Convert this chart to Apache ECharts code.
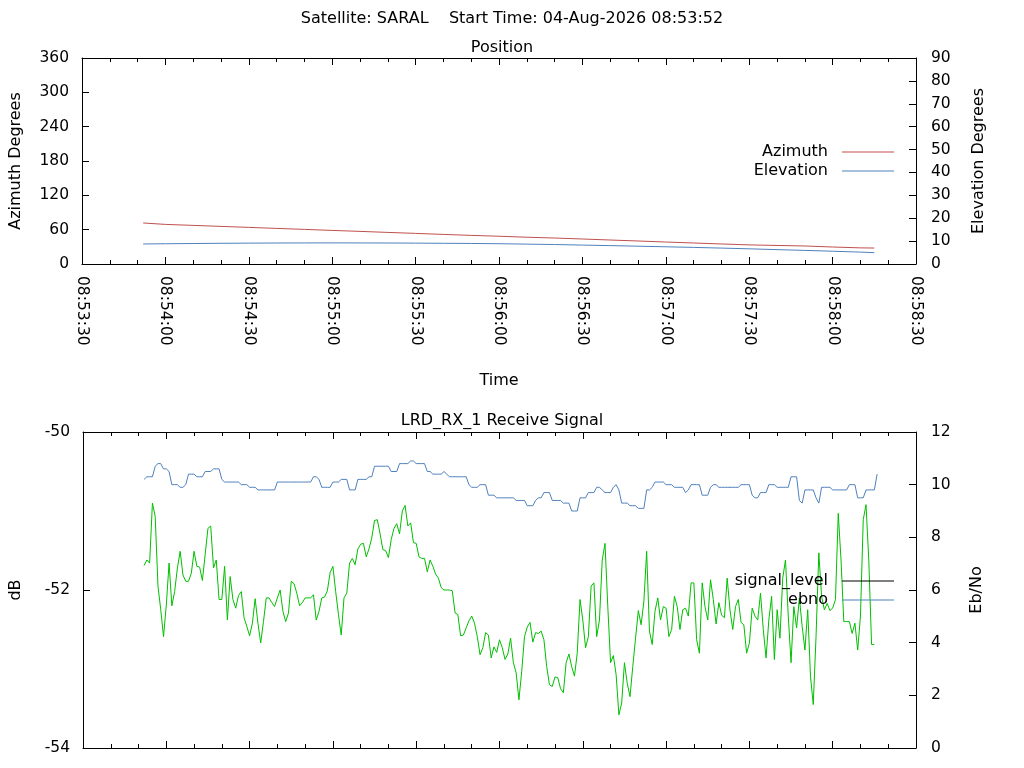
<!DOCTYPE html>
<html><head><meta charset="utf-8">
<script src="https://cdn.jsdelivr.net/npm/echarts@6/dist/echarts.min.js"></script>
<style>html,body{margin:0;padding:0;background:#fff}#c{width:1024px;height:768px}</style>
</head><body><div id="c"></div>
<script>
// ---- data ----
const mainTitle = 'Satellite: SARAL    Start Time: 04-Aug-2026 08:53:52';
const positionTitle = 'Position';
const signalTitle = 'LRD_RX_1 Receive Signal';
const timeAxisMin = '08:53:30';
const timeAxisMax = '08:58:30';
const timeTickStepSec = 30;

const positionTimes = ['08:53:52','08:54:00','08:54:10','08:54:20','08:54:30','08:54:40','08:54:50','08:55:00','08:55:10','08:55:20','08:55:30','08:55:40','08:55:50','08:56:00','08:56:10','08:56:20','08:56:30','08:56:40','08:56:50','08:57:00','08:57:10','08:57:20','08:57:30','08:57:40','08:57:50','08:58:00','08:58:10','08:58:15'];
const azimuthDeg = [71.7,69.2,67.5,65.7,64.0,62.2,60.5,58.7,57.0,55.2,53.5,51.7,50.0,48.5,46.8,45.4,43.7,41.9,40.2,38.4,36.7,35.0,33.4,32.4,31.5,29.7,28.2,27.9];
const elevationDeg = [8.75,8.85,8.95,9.05,9.12,9.17,9.2,9.22,9.2,9.17,9.12,9.05,8.97,8.86,8.69,8.51,8.27,8.03,7.78,7.52,7.25,6.95,6.63,6.28,5.94,5.58,5.20,4.95];

const rxStartTime = '08:53:52';
const rxStepSec = 1;
const signalLevel = [
-51.69,-51.62,-51.66,-50.90,-51.07,-51.95,-52.25,-52.59,-52.19,-51.66,
-52.20,-52.02,-51.72,-51.51,-51.81,-51.89,-51.89,-51.79,-51.51,-51.70,
-51.71,-51.88,-51.55,-51.22,-51.19,-51.72,-51.62,-52.12,-52.12,-51.70,
-52.38,-51.83,-52.12,-52.23,-52.07,-52.02,-52.35,-52.46,-52.58,-52.42,
-52.11,-52.42,-52.67,-52.40,-52.10,-52.10,-52.16,-52.21,-52.10,-52.00,
-52.27,-52.40,-52.29,-51.89,-51.92,-52.04,-52.20,-52.16,-52.10,-52.10,
-52.10,-52.06,-52.38,-52.27,-52.10,
-52.09,-52.01,-51.78,-51.70,-52.02,
-52.31,-52.57,-52.10,-52.04,-51.66,-51.60,-51.68,-51.48,-51.42,-51.41,
-51.58,-51.48,-51.34,-51.12,-51.11,-51.29,-51.49,-51.50,-51.59,-51.36,
-51.22,-51.16,-51.29,-51.00,-50.93,-51.19,-51.15,-51.40,-51.41,-51.58,
-51.60,-51.60,-51.77,-51.62,-51.70,-51.80,-51.85,-51.97,-52.00,-52.00,
-52.00,-52.01,-52.29,-52.31,-52.58,-52.57,-52.48,-52.39,-52.33,-52.42,
-52.59,-52.82,-52.73,-52.54,-52.57,-52.86,-52.72,-52.79,-52.63,-52.73,-52.88,
-52.81,-52.61,-52.92,-53.05,-53.39,-53.03,-52.59,-52.47,-52.41,-52.66,
-52.54,-52.55,-52.52,-52.63,-52.97,-53.20,-53.22,-53.10,-53.11,-53.25,
-53.30,-52.92,-52.81,-52.97,-53.09,-52.80,-52.12,-52.38,-52.73,-52.59,
-51.95,-51.91,-52.59,-52.38,-51.62,-51.41,-52.21,-52.92,-52.83,-53.07,
-53.58,-53.43,-52.92,-53.18,-53.35,-52.97,-52.61,-52.26,-52.44,-52.14,
-51.51,-52.52,-52.69,-52.27,-52.10,-52.38,-52.21,-52.23,-52.59,-52.50,
-52.08,-52.21,-52.50,-52.25,-52.23,-52.33,
-51.91,-51.91,-52.63,-52.80,-51.91,-52.21,-52.38,-51.87,-52.12,-52.43,
-52.16,-52.32,-52.35,-51.85,-52.25,-52.50,-52.21,-52.12,-52.41,-52.44,
-52.80,-52.67,-52.23,-52.33,-52.38,-52.04,-52.50,-52.86,-52.38,-52.08,
-52.88,-52.25,-52.61,-51.85,-51.62,-52.33,-52.92,-52.21,-52.48,-52.10,
-52.46,-52.76,-52.25,-53.09,-53.45,-52.59,-51.53,-52.08,-52.25,-52.17,
-52.26,-52.23,-52.12,-51.03,-51.62,-52.40,-52.40,-52.40,-52.55,-52.42,
-52.76,-52.33,-51.11,-50.92,-51.62,-52.69,-52.69];
const ebno = [
10.2,10.3,10.3,10.3,10.7,10.8,10.8,10.6,10.6,10.5,
10.0,10.0,10.0,9.9,9.9,10.0,10.4,10.4,10.4,10.3,
10.3,10.3,10.5,10.5,10.5,10.6,10.6,10.6,10.2,10.1,
10.1,10.1,10.1,10.1,10.1,10.0,10.0,10.0,9.9,9.9,
9.9,9.8,9.8,9.8,9.8,9.8,9.8,9.8,10.1,10.1,
10.1,10.1,10.1,10.1,10.1,10.1,10.1,10.1,10.1,10.1,
10.1,10.3,10.3,10.2,9.9,
9.9,9.9,9.9,10.1,10.1,10.1,10.2,10.2,10.2,9.8,
9.8,9.8,10.2,10.2,10.2,10.2,10.3,10.3,10.7,10.7,
10.7,10.7,10.7,10.7,10.5,10.5,10.5,10.8,10.8,10.8,
10.8,10.9,10.9,10.8,10.8,10.8,10.8,10.5,10.5,10.4,
10.4,10.4,10.4,10.5,10.4,10.3,10.3,10.3,10.3,10.3,
10.3,10.3,10.0,9.9,9.9,9.9,10.0,10.0,10.0,9.6,
9.6,9.6,9.5,9.5,9.5,9.5,
9.5,9.5,9.5,9.4,9.4,9.4,9.4,9.2,9.2,9.2,
9.4,9.5,9.5,9.7,9.7,9.7,9.4,9.4,9.4,9.4,
9.3,9.3,9.3,9.0,9.0,9.0,9.5,9.5,9.5,9.7,
9.7,9.7,9.9,9.9,9.8,9.7,9.7,9.7,9.9,10.0,
9.8,9.3,9.3,9.3,9.2,9.2,9.2,9.1,9.1,9.1,
9.8,9.8,9.9,10.1,10.1,10.1,10.1,10.0,10.0,10.0,
9.9,9.9,9.9,9.9,9.7,9.8,
10.0,10.0,10.0,10.0,9.6,9.6,9.6,9.9,10.0,10.0,
9.9,9.9,9.9,9.9,9.9,9.9,9.9,9.9,10.0,10.0,
10.0,10.0,9.6,9.5,9.5,9.7,9.7,9.7,10.0,10.0,
10.0,9.9,9.9,9.9,9.9,9.9,10.3,10.3,10.3,9.4,
9.3,9.8,9.8,9.8,9.8,9.5,9.3,9.9,9.9,9.9,
9.9,9.8,9.8,9.8,9.8,9.8,9.8,10.0,10.0,10.0,
9.5,9.5,9.5,9.8,9.8,9.8,9.8,10.4];

// ---- helpers ----
function toSec(s){const p=s.split(':').map(Number);return p[0]*3600+p[1]*60+p[2];}
function pad(n){return (n<10?'0':'')+n;}
function fmtTime(v){v=Math.round(v);return pad(Math.floor(v/3600))+':'+pad(Math.floor(v/60)%60)+':'+pad(v%60);}

const xMin = toSec(timeAxisMin), xMax = toSec(timeAxisMax);
const rx0 = toSec(rxStartTime);
const azData = positionTimes.map((t,i)=>[toSec(t), azimuthDeg[i]]);
const elData = positionTimes.map((t,i)=>[toSec(t), elevationDeg[i]]);
const sigData = signalLevel.map((v,i)=>[rx0+i*rxStepSec, v]);
const ebData = ebno.map((v,i)=>[rx0+i*rxStepSec, v]);

const FONT = 'DejaVu Sans';
const FS = 15.5;   // tick labels
const FT = 16;     // titles, names, legend
const RED = '#c0504d', BLUE = '#4f81bd', GREEN = '#00c000';

const axisLine = {show:true, onZero:false, lineStyle:{color:'#000', width:1}};
const tickStyle = {show:true, inside:true, length:7, lineStyle:{color:'#000', width:1}};
const minorStyle = {show:true, splitNumber:3, length:4, lineStyle:{color:'#000', width:1}};
const labelBase = {color:'#000', fontFamily:FONT, fontSize:FS};
const nameStyle = {color:'#000', fontFamily:FONT, fontSize:FT};
const titleStyle = {color:'#000', fontFamily:FONT, fontSize:FT, fontWeight:'normal'};

function xAxisDef(grid, pos, showLabel, extra){
  return Object.assign({
    type:'value', gridIndex:grid, position:pos, min:xMin, max:xMax, interval:timeTickStepSec,
    axisLine, axisTick:tickStyle, minorTick:minorStyle, splitLine:{show:false},
    axisLabel: Object.assign({show:showLabel, rotate:-90, margin:12, formatter:fmtTime}, labelBase)
  }, extra||{});
}
function yAxisDef(grid, pos, min, max, interval, name, gap){
  return {
    type:'value', gridIndex:grid, position:pos, min, max, interval,
    axisLine, axisTick:tickStyle, splitLine:{show:false},
    axisLabel: Object.assign({margin: pos==='left'?13:15}, labelBase),
    name, nameLocation:'middle', nameRotate:90, nameGap:gap, nameTextStyle:nameStyle
  };
}
function legendDef(items, top){
  return {data:items, orient:'vertical', align:'right', right:125, top, icon:'rect',
    itemWidth:52, itemHeight:1, itemGap:3, selectedMode:false,
    textStyle:{color:'#000', fontFamily:FONT, fontSize:FT, padding:[0,9,0,0]}};
}

const chart = echarts.init(document.getElementById('c'), null, {renderer:'canvas'});
chart.setOption({
  animation:false,
  backgroundColor:'#fff',
  textStyle:{fontFamily:FONT},
  title:[
    {text:mainTitle, left:'center', top:6, textStyle:titleStyle},
    {text:positionTitle, left:497, textAlign:'center', top:35, textStyle:titleStyle},
    {text:signalTitle, left:497, textAlign:'center', top:408, textStyle:titleStyle}
  ],
  grid:[
    {left:79, top:58, width:837, height:206},
    {left:79, top:432, width:837, height:316}
  ],
  legend:[
    legendDef([{name:'Azimuth', itemStyle:{color:RED, borderWidth:0}},{name:'Elevation', itemStyle:{color:BLUE, borderWidth:0}}], 139),
    legendDef([{name:'signal_level', itemStyle:{color:'#000', borderWidth:0}},{name:'ebno', itemStyle:{color:BLUE, borderWidth:0}}], 568)
  ],
  xAxis:[
    xAxisDef(0,'bottom',true,{name:'Time', nameLocation:'middle', nameGap:109, nameTextStyle:nameStyle}),
    xAxisDef(0,'top',false),
    xAxisDef(1,'bottom',false),
    xAxisDef(1,'top',false)
  ],
  yAxis:[
    yAxisDef(0,'left',0,360,60,'Azimuth Degrees',58),
    yAxisDef(0,'right',0,90,10,'Elevation Degrees',55),
    yAxisDef(1,'left',-54,-50,2,'dB',59),
    yAxisDef(1,'right',0,12,2,'Eb/No',53)
  ],
  series:[
    {name:'Azimuth', type:'line', xAxisIndex:0, yAxisIndex:0, data:azData, showSymbol:false, lineStyle:{color:RED, width:1}, itemStyle:{color:RED}},
    {name:'Elevation', type:'line', xAxisIndex:0, yAxisIndex:1, data:elData, showSymbol:false, lineStyle:{color:BLUE, width:1}, itemStyle:{color:BLUE}},
    {name:'signal_level', type:'line', xAxisIndex:2, yAxisIndex:2, data:sigData, showSymbol:false, lineStyle:{color:GREEN, width:1}, itemStyle:{color:GREEN}},
    {name:'ebno', type:'line', xAxisIndex:2, yAxisIndex:3, data:ebData, showSymbol:false, lineStyle:{color:BLUE, width:1}, itemStyle:{color:BLUE}}
  ]
});
</script></body></html>
